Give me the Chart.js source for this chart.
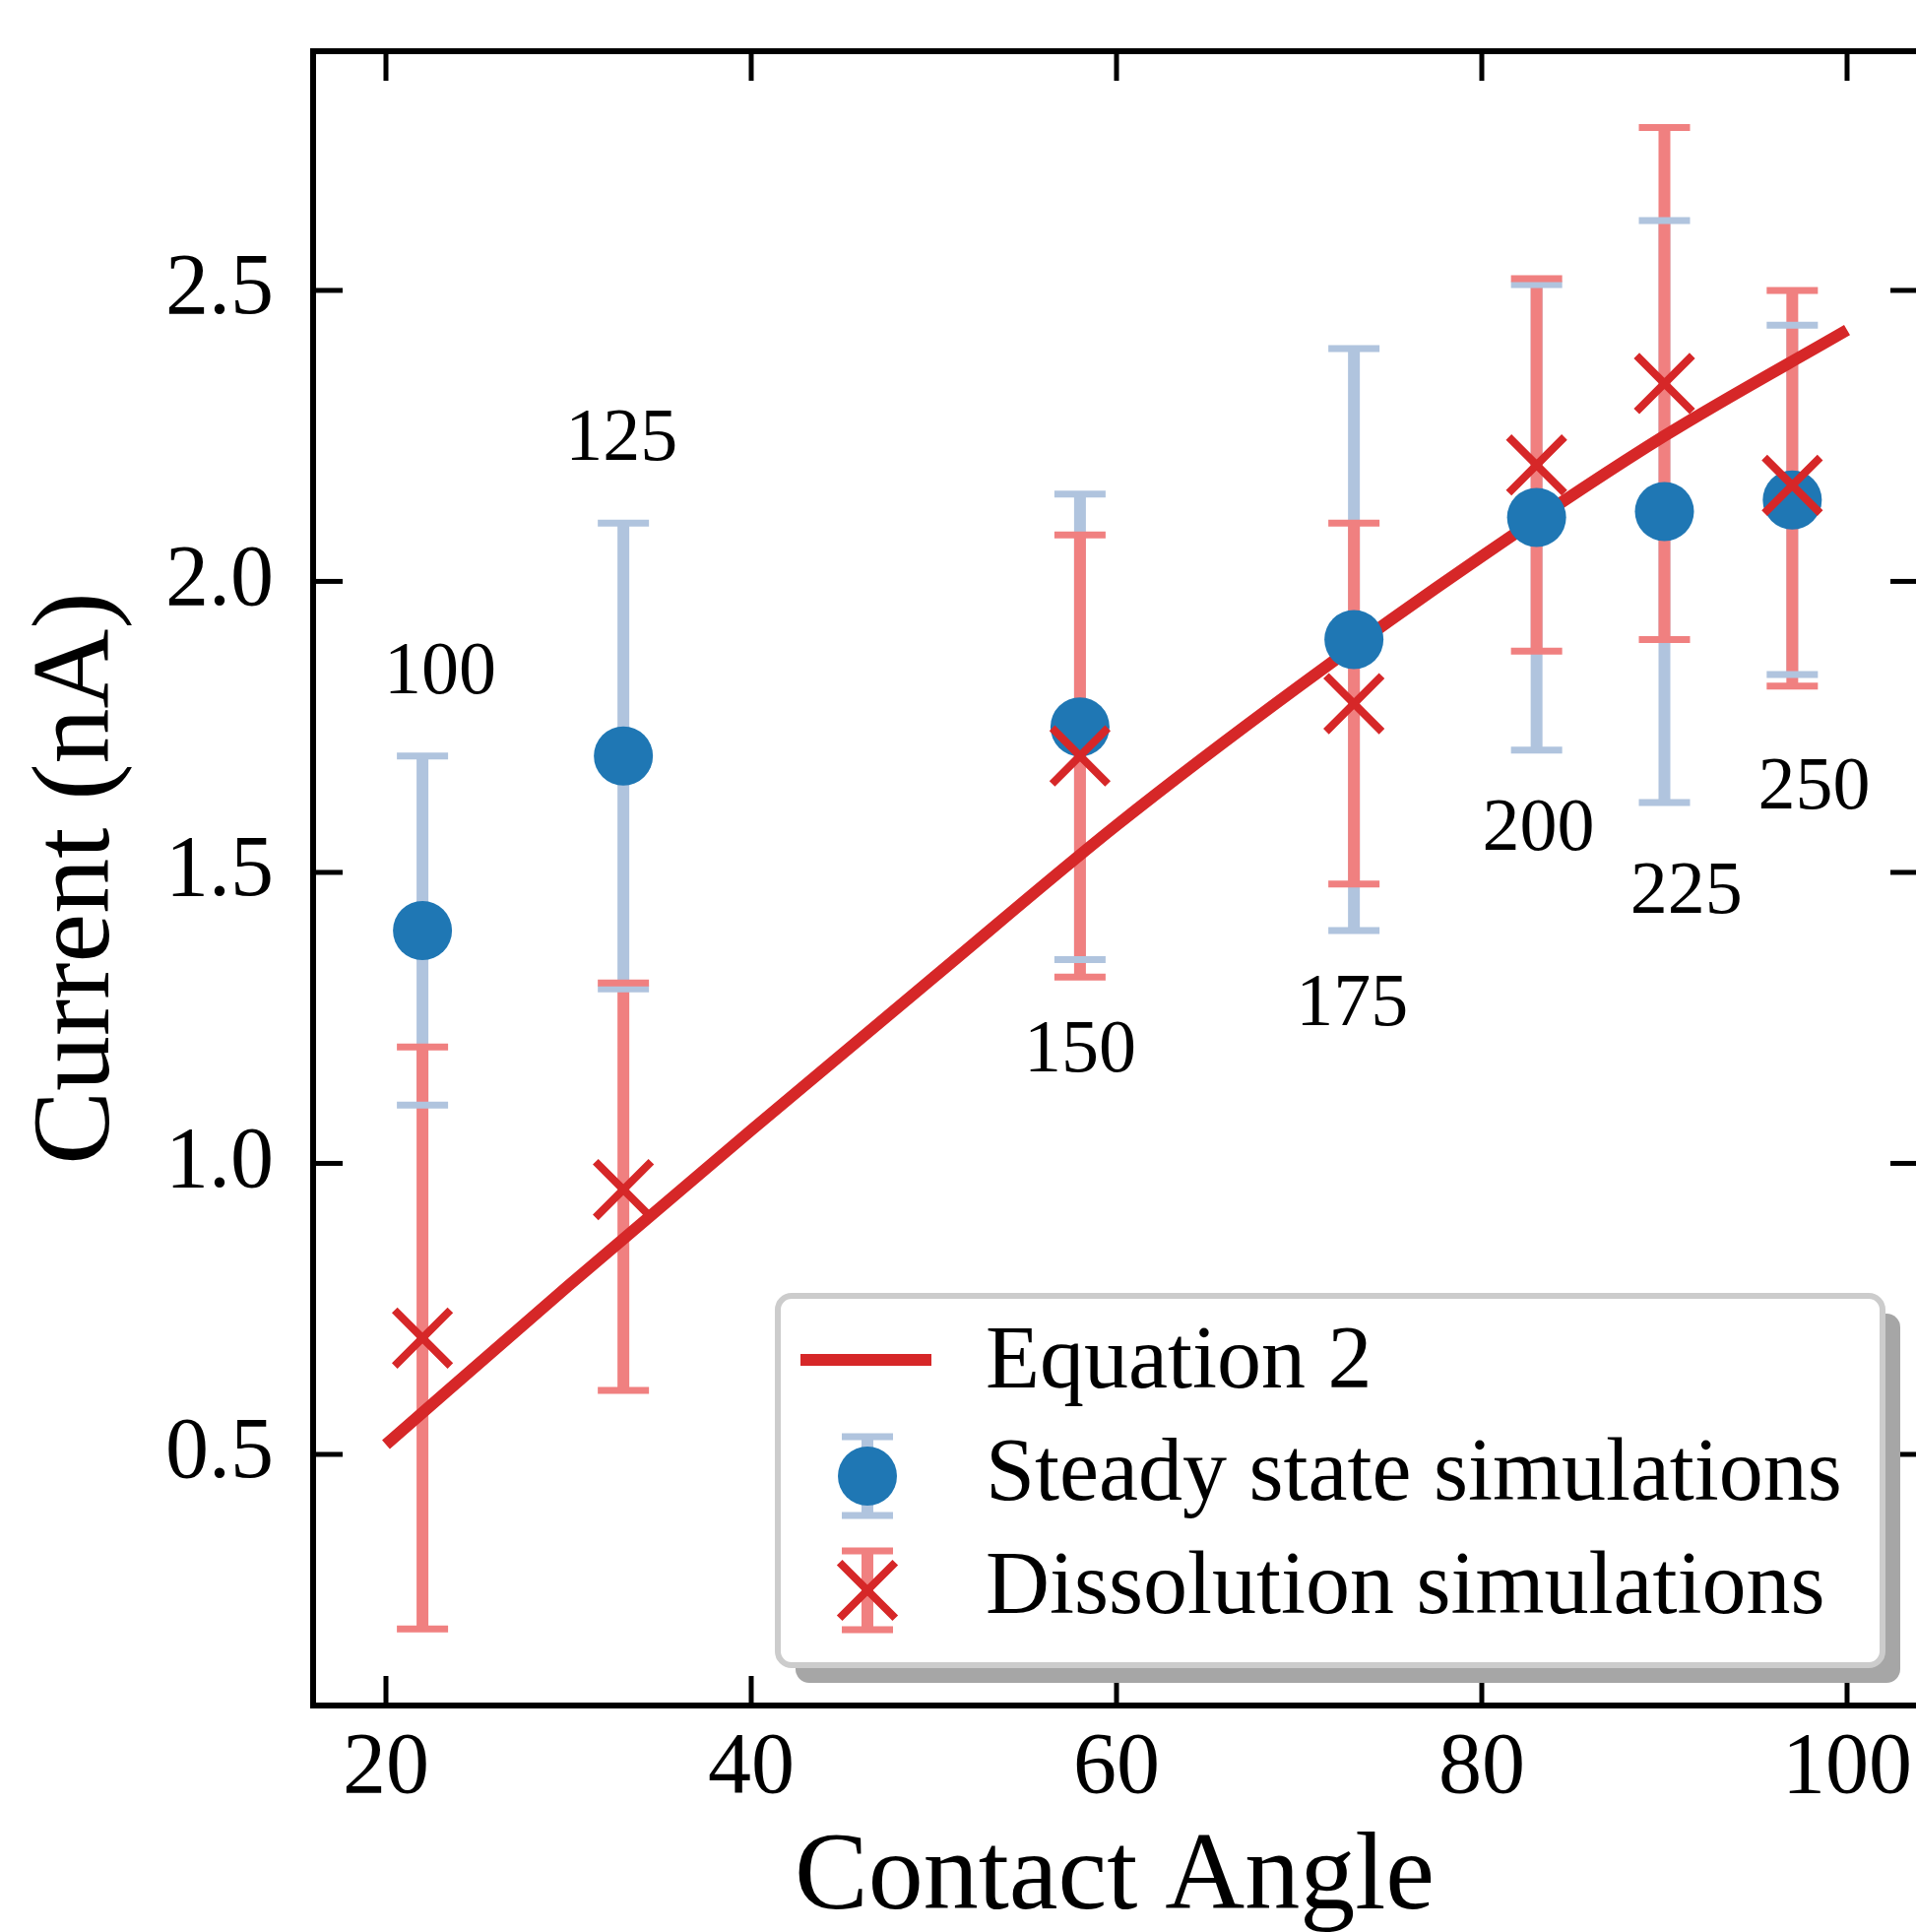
<!DOCTYPE html>
<html><head><meta charset="utf-8">
<script src="https://cdn.jsdelivr.net/npm/chart.js@4.4.1/dist/chart.umd.min.js"></script>
<style>html,body{margin:0;padding:0;background:#fff;overflow:hidden}canvas{display:block}</style>
</head><body>
<canvas id="c" width="1946" height="1962"></canvas>
<script>
// ---- data ----
const contactAngle = [22, 33, 58, 73, 83, 90, 97];
const steadyCurrent = [1.40, 1.70, 1.75, 1.90, 2.11, 2.12, 2.14];
const steadyLow = [1.10, 1.30, 1.35, 1.40, 1.71, 1.62, 1.84];
const steadyHigh = [1.70, 2.10, 2.15, 2.40, 2.51, 2.62, 2.44];
const dissolutionCurrent = [0.70, 0.955, 1.70, 1.79, 2.20, 2.34, 2.165];
const dissolutionLow = [0.20, 0.61, 1.32, 1.48, 1.88, 1.90, 1.82];
const dissolutionHigh = [1.20, 1.31, 2.08, 2.10, 2.52, 2.78, 2.50];
const equationAngle = [20, 30, 40, 50, 60, 70, 80, 90, 100];
const equationCurrent = [0.517, 0.79, 1.057, 1.32, 1.581, 1.82, 2.043, 2.25, 2.432];
const labelText = ['100', '125', '150', '175', '200', '225', '250'];
const labelAngle = [22.96, 32.9, 58.0, 72.9, 83.1, 91.2, 98.2];
const labelCurrent = [1.842, 2.243, 1.192, 1.272, 1.572, 1.464, 1.643];
const xTicks = [20, 40, 60, 80, 100];
const yTicks = [0.5, 1.0, 1.5, 2.0, 2.5];
const legendLabels = ['Equation 2', 'Steady state simulations', 'Dissolution simulations'];

// ---- styles ----
const FONT = "'Liberation Serif', 'Times New Roman', serif";
const BLUE = '#1f77b4', RED = '#d62728', LBLUE = '#b0c4de', LRED = '#f08080';
const BAR_W = 12, CAP_R = 26, CAP_W = 7, DOT_R = 30, X_R = 40, X_W = 8, LINE_W = 12;

const pts = (xs, ys) => xs.map((x, i) => ({x, y: ys[i]}));
const bars = (xs, lo, hi) => xs.flatMap((x, i) => [{x, y: lo[i]}, {x, y: hi[i]}, {x, y: null}]);
const caps = (xs, lo, hi) => xs.flatMap((x, i) => [{x, y: lo[i]}, {x, y: hi[i]}]);
const noPad = s => { s.paddingTop = 0; s.paddingBottom = 0; s.paddingLeft = 0; s.paddingRight = 0; };

const framePlugin = {
  id: 'frame',
  afterDatasetsDraw(chart) {
    const {ctx, chartArea: a, scales: {x, y}} = chart;
    const rightSpine = a.right + 4;
    ctx.save();
    ctx.strokeStyle = '#000';
    ctx.lineCap = 'butt';
    ctx.lineWidth = 5;
    const seg = (x1, y1, x2, y2) => { ctx.beginPath(); ctx.moveTo(x1, y1); ctx.lineTo(x2, y2); ctx.stroke(); };
    xTicks.forEach(v => { const p = x.getPixelForValue(v); seg(p, a.bottom, p, a.bottom - 30); seg(p, a.top, p, a.top + 30); });
    yTicks.forEach(v => { const p = y.getPixelForValue(v); seg(a.left, p, a.left + 30, p); seg(rightSpine, p, rightSpine - 30, p); });
    ctx.lineWidth = 6;
    ctx.strokeRect(a.left, a.top, rightSpine - a.left, a.bottom - a.top);
    // point labels
    ctx.fillStyle = '#000';
    ctx.font = '76px ' + FONT;
    ctx.textAlign = 'center';
    ctx.textBaseline = 'middle';
    labelText.forEach((t, i) => ctx.fillText(t, x.getPixelForValue(labelAngle[i]), y.getPixelForValue(labelCurrent[i])));
    ctx.restore();
  },
  afterDraw(chart) {
    const ctx = chart.ctx;
    const L = {x0: 790, y0: 1316, x1: 1912, y1: 1691, r: 14};
    const rr = (x0, y0, x1, y1, r) => { ctx.beginPath(); ctx.moveTo(x0 + r, y0); ctx.arcTo(x1, y0, x1, y1, r); ctx.arcTo(x1, y1, x0, y1, r); ctx.arcTo(x0, y1, x0, y0, r); ctx.arcTo(x0, y0, x1, y0, r); ctx.closePath(); };
    ctx.save();
    ctx.fillStyle = '#a6a6a6';
    rr(L.x0 + 18, L.y0 + 18, L.x1 + 18, L.y1 + 18, L.r); ctx.fill();
    ctx.fillStyle = '#ffffff';
    rr(L.x0, L.y0, L.x1, L.y1, L.r); ctx.fill();
    ctx.strokeStyle = '#cccccc'; ctx.lineWidth = 6; ctx.stroke();
    const hx = 881;
    const rows = [1381, 1499, 1615];
    ctx.strokeStyle = RED; ctx.lineWidth = LINE_W; ctx.lineCap = 'butt';
    ctx.beginPath(); ctx.moveTo(813, rows[0]); ctx.lineTo(946, rows[0]); ctx.stroke();
    const errHandle = (cy, col) => {
      ctx.strokeStyle = col;
      ctx.lineWidth = BAR_W;
      ctx.beginPath(); ctx.moveTo(hx, cy - 40); ctx.lineTo(hx, cy + 40); ctx.stroke();
      ctx.lineWidth = CAP_W;
      [cy - 40, cy + 40].forEach(yy => { ctx.beginPath(); ctx.moveTo(hx - CAP_R, yy); ctx.lineTo(hx + CAP_R, yy); ctx.stroke(); });
    };
    errHandle(rows[1], LBLUE);
    ctx.fillStyle = BLUE; ctx.beginPath(); ctx.arc(hx, rows[1], DOT_R, 0, Math.PI * 2); ctx.fill();
    errHandle(rows[2], LRED);
    const d = X_R * Math.SQRT1_2;
    ctx.strokeStyle = RED; ctx.lineWidth = X_W;
    ctx.beginPath(); ctx.moveTo(hx - d, rows[2] - d); ctx.lineTo(hx + d, rows[2] + d);
    ctx.moveTo(hx - d, rows[2] + d); ctx.lineTo(hx + d, rows[2] - d); ctx.stroke();
    ctx.fillStyle = '#000';
    ctx.font = '90px ' + FONT;
    ctx.textAlign = 'left'; ctx.textBaseline = 'alphabetic';
    const base = [1409, 1523, 1638];
    legendLabels.forEach((t, i) => ctx.fillText(t, 1001, base[i]));
    ctx.restore();
  }
};

new Chart(document.getElementById('c'), {
  type: 'scatter',
  data: {
    datasets: [
      {label: 'Dissolution simulations', data: pts(contactAngle, dissolutionCurrent), pointStyle: 'crossRot',
       pointRadius: X_R, borderColor: RED, borderWidth: X_W, backgroundColor: RED, order: 0, clip: false},
      {label: 'Steady state simulations', data: pts(contactAngle, steadyCurrent), pointStyle: 'circle',
       pointRadius: DOT_R, backgroundColor: BLUE, borderColor: BLUE, borderWidth: 0, order: 1, clip: false},
      {label: 'Equation 2', data: pts(equationAngle, equationCurrent), showLine: true, pointRadius: 0,
       borderColor: RED, borderWidth: LINE_W, borderCapStyle: 'butt', cubicInterpolationMode: 'monotone', order: 2},
      {label: 'dissolution caps', data: caps(contactAngle, dissolutionLow, dissolutionHigh), pointStyle: 'line',
       pointRadius: CAP_R, borderColor: LRED, borderWidth: CAP_W, order: 3},
      {label: 'steady caps', data: caps(contactAngle, steadyLow, steadyHigh), pointStyle: 'line',
       pointRadius: CAP_R, borderColor: LBLUE, borderWidth: CAP_W, order: 4},
      {label: 'dissolution bars', data: bars(contactAngle, dissolutionLow, dissolutionHigh), showLine: true, spanGaps: false,
       pointRadius: 0, borderColor: LRED, borderWidth: BAR_W, borderCapStyle: 'butt', order: 5},
      {label: 'steady bars', data: bars(contactAngle, steadyLow, steadyHigh), showLine: true, spanGaps: false,
       pointRadius: 0, borderColor: LBLUE, borderWidth: BAR_W, borderCapStyle: 'butt', order: 6}
    ]
  },
  options: {
    responsive: false,
    animation: false,
    devicePixelRatio: 1,
    layout: {autoPadding: false, padding: {top: 52, right: 0, left: 0, bottom: 0}},
    plugins: {legend: {display: false}, tooltip: {enabled: false}},
    scales: {
      x: {
        type: 'linear', min: 16.011, max: 103.774,
        afterBuildTicks: s => { s.ticks = xTicks.map(v => ({value: v})); },
        afterFit: s => { s.height = 230; noPad(s); },
        grid: {display: false, drawTicks: false}, border: {display: false},
        ticks: {color: '#000', font: {family: FONT, size: 88}, padding: 12, maxRotation: 0, autoSkip: false,
                callback: v => String(v)},
        title: {display: true, text: 'Contact Angle', color: '#000', font: {family: FONT, size: 112, lineHeight: 0.96}, padding: 0}
      },
      y: {
        type: 'linear', min: 0.0685, max: 2.911,
        afterBuildTicks: s => { s.ticks = yTicks.map(v => ({value: v})); },
        afterFit: s => { s.width = 318; noPad(s); },
        grid: {display: false, drawTicks: false}, border: {display: false},
        ticks: {color: '#000', font: {family: FONT, size: 88}, padding: 40, autoSkip: false,
                callback: v => Number(v).toFixed(1)},
        title: {display: true, text: 'Current (nA)', color: '#000', font: {family: FONT, size: 112, lineHeight: 0.96}, padding: {top: 27, bottom: 0}}
      }
    }
  },
  plugins: [framePlugin]
});
</script>
</body></html>
